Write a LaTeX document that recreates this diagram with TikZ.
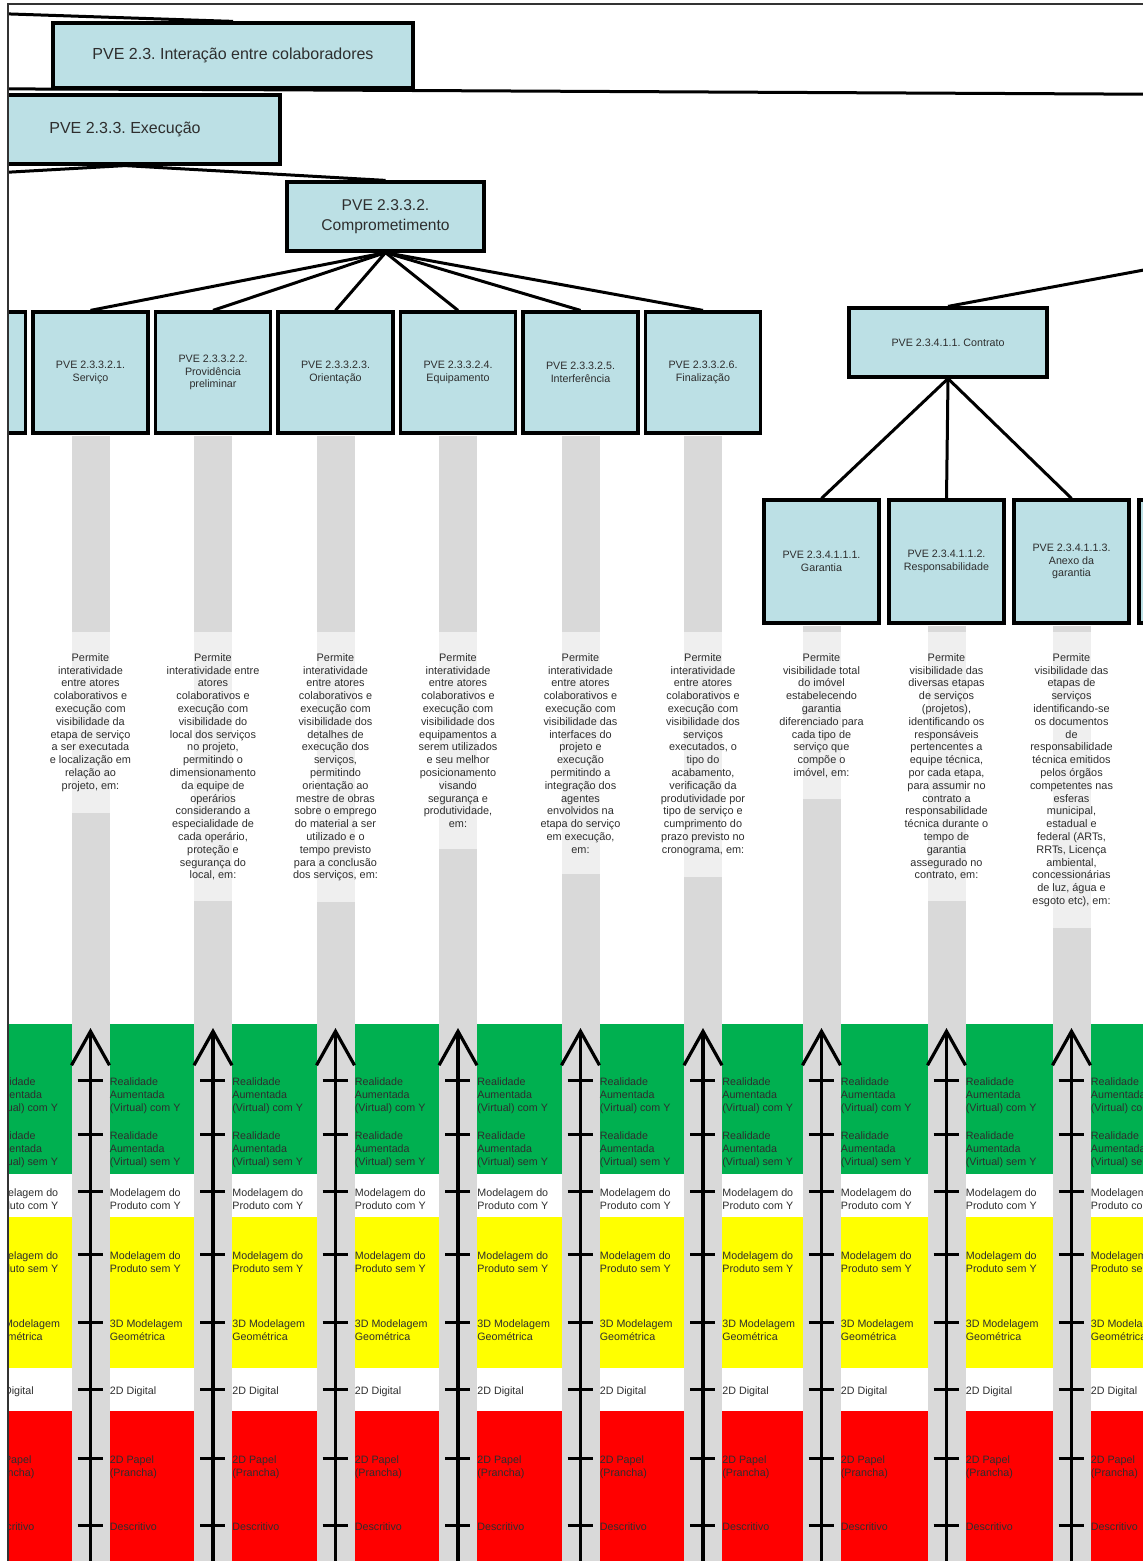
\documentclass[tikz,border=0pt]{standalone}
\usepackage{fontspec}
\setmainfont{Liberation Sans}
\usepackage{tikz}
\usetikzlibrary{arrows.meta,positioning,calc}
\definecolor{boxfill}{HTML}{BCE0E5}
\definecolor{bargray}{HTML}{D9D9D9}
\definecolor{lvgreen}{HTML}{00B050}
\definecolor{lvyellow}{HTML}{FFFF00}
\definecolor{lvred}{HTML}{FF0000}
\definecolor{txt}{HTML}{2E2E2E}
\frenchspacing

\begin{document}
\begin{tikzpicture}[x=0.5pt,y=-0.5pt,
  pve/.style={draw=black,line width=1.6pt,fill=boxfill,text=txt,align=center,inner sep=2pt},
  pvebig/.style={pve,font=\fontsize{8}{10}\selectfont},
  pvesmall/.style={pve,font=\fontsize{5.35}{6.25}\selectfont,minimum width=57.5pt,minimum height=60.5pt},
  link/.style={line width=1.5pt},
  grayway/.style={line width=19pt,draw=bargray},
  desc/.style={fill=white,fill opacity=0.6,text opacity=1,text=txt,align=center,anchor=north,
    inner xsep=2pt,inner ysep=10.5pt,font=\fontsize{5.45}{6.4}\selectfont},
  lvl/.style={anchor=north west,inner sep=0pt,align=left,text=txt,font=\fontsize{5.35}{6.5}\selectfont},
  tickmark/.style={line width=1.5pt},
  levelarrow/.style={line width=1.6pt,-{Straight Barb[length=17pt,width=19pt]}}]
  \useasboundingbox (0,0) rectangle (1143,1561);
  \begin{scope}
  \clip (8,4) rectangle (1143,1561);
  % tree boxes
  \node[pvebig,minimum width=180pt,minimum height=32.5pt] (colab) at (233,55.5) {PVE 2.3. Interação entre colaboradores};
  \node[pvebig,minimum width=155pt,minimum height=34.5pt] (exec) at (125,129.5) {PVE 2.3.3. Execução};
  \node[pvebig,font=\fontsize{7.8}{10}\selectfont,minimum width=98.5pt,minimum height=34.5pt] (compr) at (385.5,216.5) {PVE 2.3.3.2.\\Comprometimento};
  \node[pvesmall] (prev) at (-32,372.5) {};
  \node[pvesmall] (serv) at (90.5,372.5) {PVE 2.3.3.2.1.\\Serviço};
  \node[pvesmall,right=2.15pt of serv] (prov) {PVE 2.3.3.2.2.\\Providência\\preliminar};
  \node[pvesmall,right=2.15pt of prov] (orie) {PVE 2.3.3.2.3.\\Orientação};
  \node[pvesmall,right=2.15pt of orie] (equi) {PVE 2.3.3.2.4.\\Equipamento};
  \node[pvesmall,right=2.15pt of equi] (interf) {PVE 2.3.3.2.5.\\Interferência};
  \node[pvesmall,right=2.15pt of interf] (final) {PVE 2.3.3.2.6.\\Finalização};
  \node[pvesmall,minimum width=99pt,minimum height=34.5pt] (contr) at (948,342.5) {PVE 2.3.4.1.1. Contrato};
  \node[pvesmall,minimum height=61.5pt] (gar) at (821.5,561.5) {PVE 2.3.4.1.1.1.\\Garantia};
  \node[pvesmall,minimum height=61.5pt,right=3.4pt of gar] (resp) {PVE 2.3.4.1.1.2.\\Responsabilidade};
  \node[pvesmall,minimum height=61.5pt,right=3.4pt of resp] (anexo) {PVE 2.3.4.1.1.3.\\Anexo da\\garantia};
  \node[pvesmall,minimum height=61.5pt,right=3.4pt of anexo] (nextd) {};
  % level bands
  \fill[lvgreen] (-100,1024) rectangle (1200,1174);
  \fill[lvyellow] (-100,1217) rectangle (1200,1368);
  \fill[lvred] (-100,1411) rectangle (1200,1570);
  \coordinate (bot) at (0,1575);
  \coordinate (dtop) at (0,632);
  \coordinate (atip) at (0,1028);
  \foreach \y [count=\i] in {1080,1134,1191,1254,1322,1389,1458,1525}
    \coordinate (r\i) at (0,\y);
  \foreach \n in {prev,serv,prov,orie,equi,interf,final,gar,resp,anexo}
    \draw[grayway] ([yshift=-0.8pt]\n.south) -- (\n.south |- bot);
  % descriptions
  \node[desc] (dserv) at (serv.south |- dtop) {Permite\\interatividade\\entre atores\\colaborativos e\\execução com\\visibilidade da\\etapa de serviço\\a ser executada\\e localização em\\relação ao\\projeto, em:};
  \node[desc] (dprov) at (prov.south |- dtop) {Permite\\interatividade entre\\atores\\colaborativos e\\execução com\\visibilidade do\\local dos serviços\\no projeto,\\permitindo o\\dimensionamento\\da equipe de\\operários\\considerando a\\especialidade de\\cada operário,\\proteção e\\segurança do\\local, em:};
  \node[desc] (dorie) at (orie.south |- dtop) {Permite\\interatividade\\entre atores\\colaborativos e\\execução com\\visibilidade dos\\detalhes de\\execução dos\\serviços,\\permitindo\\orientação ao\\mestre de obras\\sobre o emprego\\do material a ser\\utilizado e o\\tempo previsto\\para a conclusão\\dos serviços, em:};
  \node[desc] (dequi) at (equi.south |- dtop) {Permite\\interatividade\\entre atores\\colaborativos e\\execução com\\visibilidade dos\\equipamentos a\\serem utilizados\\e seu melhor\\posicionamento\\visando\\segurança e\\produtividade,\\em:};
  \node[desc] (dinterf) at (interf.south |- dtop) {Permite\\interatividade\\entre atores\\colaborativos e\\execução com\\visibilidade das\\interfaces do\\projeto e\\execução\\permitindo a\\integração dos\\agentes\\envolvidos na\\etapa do serviço\\em execução,\\em:};
  \node[desc] (dfinal) at (final.south |- dtop) {Permite\\interatividade\\entre atores\\colaborativos e\\execução com\\visibilidade dos\\serviços\\executados, o\\tipo do\\acabamento,\\verificação da\\produtividade por\\tipo de serviço e\\cumprimento do\\prazo previsto no\\cronograma, em:};
  \node[desc] (dgar) at (gar.south |- dtop) {Permite\\visibilidade total\\do imóvel\\estabelecendo\\garantia\\diferenciado para\\cada tipo de\\serviço que\\compõe o\\imóvel, em:};
  \node[desc] (dresp) at (resp.south |- dtop) {Permite\\visibilidade das\\diversas etapas\\de serviços\\(projetos),\\identificando os\\responsáveis\\pertencentes a\\equipe técnica,\\por cada etapa,\\para assumir no\\contrato a\\responsabilidade\\técnica durante o\\tempo de\\garantia\\assegurado no\\contrato, em:};
  \node[desc] (danexo) at (anexo.south |- dtop) {Permite\\visibilidade das\\etapas de\\serviços\\identificando-se\\os documentos\\de\\responsabilidade\\técnica emitidos\\pelos órgãos\\competentes nas\\esferas\\municipal,\\estadual e\\federal (ARTs,\\RRTs, Licença\\ambiental,\\concessionárias\\de luz, água e\\esgoto etc), em:};
  % level scales
  \foreach \n in {prev,serv,prov,orie,equi,interf,final,gar,resp,anexo} {
    \draw[levelarrow] (\n.south |- bot) -- (\n.south |- atip);
    \foreach \t [count=\i] in {{Realidade\\Aumentada\\(Virtual) com Y},{Realidade\\Aumentada\\(Virtual) sem Y},{Modelagem do\\Produto com Y},{Modelagem do\\Produto sem Y},{3D Modelagem\\Geométrica},{2D Digital},{2D Papel\\(Prancha)},{Descritivo}} {
      \draw[tickmark] ([xshift=-6.5pt]\n.south |- r\i) -- ([xshift=6pt]\n.south |- r\i);
      \node[lvl] at ([xshift=9.5pt,yshift=1.5pt]\n.south |- r\i) {\t};
    }
  }
  % connectors
  \coordinate (pa) at (-440,-1);
  \coordinate (pb) at (-300,88);
  \coordinate (pc) at (1300,95);
  \coordinate (pd) at (-200,184);
  \coordinate (pe) at (1300,241);
  \draw[link] (pa) -- (colab.north);
  \draw[link] (colab.south) -- (pb);
  \draw[link] (colab.south) -- (pc);
  \draw[link] (exec.south) -- (pd);
  \draw[link] (exec.south) -- (compr.north);
  \foreach \c in {serv,prov,orie,equi,interf,final}
    \draw[link] (compr.south) -- (\c.north);
  \draw[link] (contr.north) -- (pe);
  \foreach \c in {gar,resp,anexo}
    \draw[link] (contr.south) -- (\c.north);
  \end{scope}
  \draw[line width=0.8pt,black!80] (1143,4) -| (8,1565);
\end{tikzpicture}
\end{document}
